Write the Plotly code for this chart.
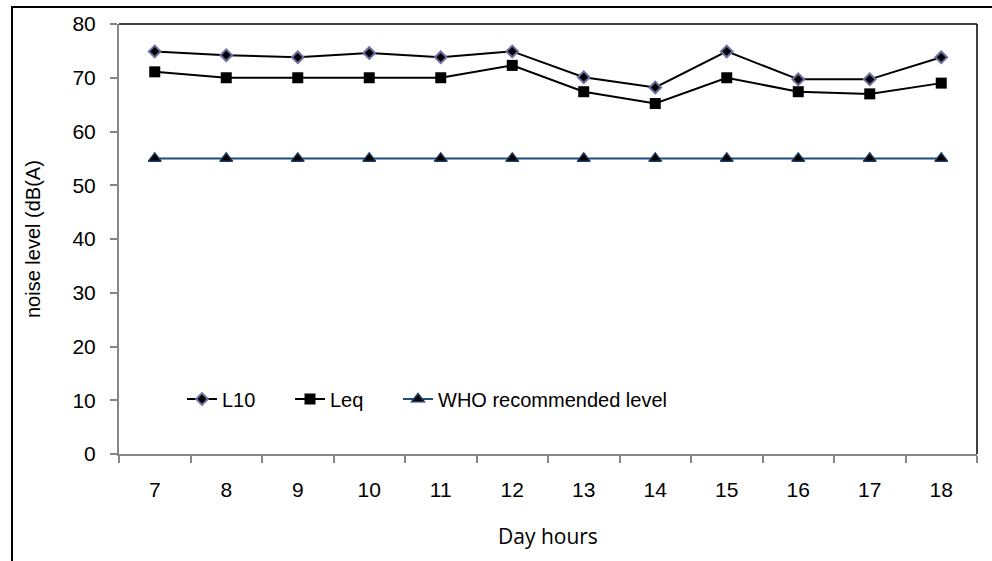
import plotly.graph_objects as go

hours = ["7", "8", "9", "10", "11", "12", "13", "14", "15", "16", "17", "18"]
l10 = [74.9, 74.2, 73.8, 74.6, 73.8, 74.9, 70.1, 68.2, 74.9, 69.7, 69.7, 73.8]
leq = [71.1, 70.0, 70.0, 70.0, 70.0, 72.3, 67.4, 65.2, 70.0, 67.4, 67.0, 69.0]
who = [55, 55, 55, 55, 55, 55, 55, 55, 55, 55, 55, 55]
y_ticks = [0, 10, 20, 30, 40, 50, 60, 70, 80]

fig = go.Figure()
fig.add_trace(go.Scatter(
    x=hours, y=l10, name="L10", mode="lines+markers",
    line=dict(color="black", width=2),
    marker=dict(symbol="diamond", size=9, color="black",
                line=dict(color="#6E6EA3", width=2)),
))
fig.add_trace(go.Scatter(
    x=hours, y=leq, name="Leq", mode="lines+markers",
    line=dict(color="black", width=2),
    marker=dict(symbol="square", size=11, color="black",
                line=dict(color="black", width=0)),
))
fig.add_trace(go.Scatter(
    x=hours, y=who, name="WHO recommended level", mode="lines+markers",
    line=dict(color="#1F4E79", width=2),
    marker=dict(symbol="triangle-up", size=11, color="black",
                line=dict(color="#1F3864", width=1.5)),
    legendwidth=300,
))

W, H = 992, 561
L, R, T, B = 119, 15, 24, 107
pw = W - L - R
ph = H - T - B

ARIAL = "Liberation Sans, Arial, sans-serif"

fig.update_layout(
    width=W, height=H,
    margin=dict(l=L, r=R, t=T, b=B, autoexpand=False),
    paper_bgcolor="white", plot_bgcolor="white",
    font=dict(family=ARIAL, size=20, color="black"),
    showlegend=True,
    legend=dict(
        orientation="h", x=(182 - L) / pw, xanchor="left",
        y=(H - B - 399) / ph, yanchor="middle",
        bgcolor="rgba(0,0,0,0)", font=dict(family=ARIAL, size=20),
        entrywidth=63, entrywidthmode="pixels",
        traceorder="normal",
    ),
    xaxis=dict(
        type="category", range=[-0.5, len(hours) - 0.5],
        showgrid=False, zeroline=False,
        showline=True, linecolor="#868686", linewidth=2,
        ticks="outside", tickson="boundaries", ticklen=7, tickcolor="#868686", tickwidth=2,
        ticklabelstandoff=16,
        tickfont=dict(family=ARIAL, size=21),
    ),
    yaxis=dict(
        range=[0, 80], tickvals=y_ticks, showgrid=False, zeroline=False,
        showline=True, linecolor="#868686", linewidth=2,
        ticks="outside", ticklen=7, tickcolor="#868686", tickwidth=2,
        ticklabelstandoff=10,
        tickfont=dict(family=ARIAL, size=21),
    ),
    shapes=[
        dict(type="line", xref="paper", yref="paper", x0=0, x1=1, y0=1, y1=1,
             line=dict(color="black", width=1.5)),
        dict(type="line", xref="paper", yref="paper", x0=1, x1=1, y0=0, y1=1,
             line=dict(color="black", width=1.5)),
        dict(type="rect", xref="paper", yref="paper",
             x0=(12 - L) / pw, x1=1.3, y0=-0.6, y1=(H - B - 7) / ph,
             line=dict(color="black", width=2)),
    ],
    annotations=[
        dict(text="Day hours", xref="paper", yref="paper",
             x=0.5, y=(H - B - 536) / ph, xanchor="center", yanchor="middle",
             showarrow=False, font=dict(family="Open Sans, sans-serif", size=21)),
        dict(text="noise level (dB(A)", xref="paper", yref="paper",
             x=(33 - L) / pw, y=0.5, xanchor="center", yanchor="middle",
             textangle=-90, showarrow=False, font=dict(family=ARIAL, size=20)),
    ],
)

fig.write_html("out.html",
               config={"displayModeBar": False},
               post_script="document.body.style.margin='0';document.body.style.overflow='hidden';")
